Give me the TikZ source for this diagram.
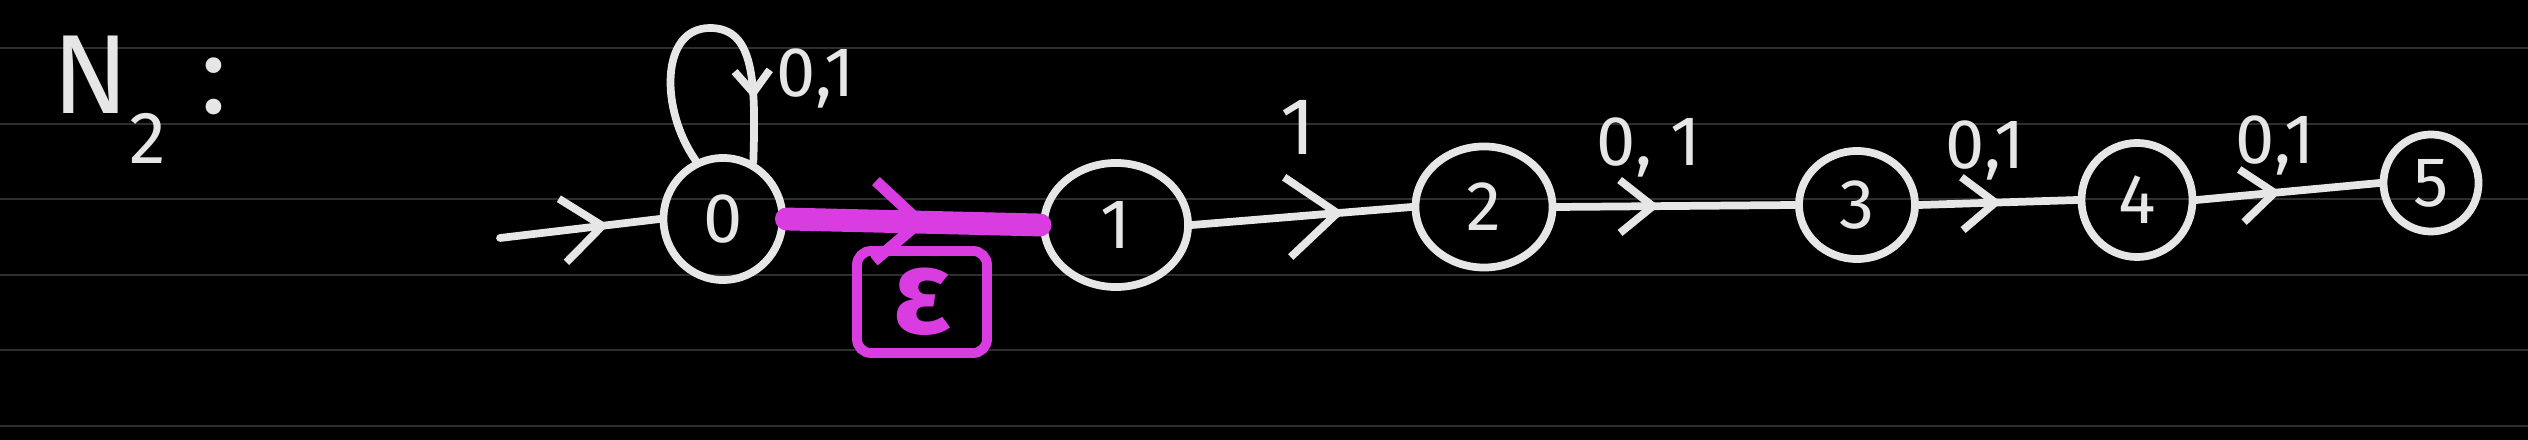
\documentclass[tikz,border=0pt]{standalone}
\usepackage{fontspec}
\setmainfont{Fira Sans}
\usetikzlibrary{shapes.geometric,decorations.markings,arrows.meta}

\definecolor{chalk}{HTML}{E6E6E6}
\definecolor{pen}{HTML}{D93CE0}
\definecolor{ruling}{HTML}{2E2E2E}

\tikzset{
  state/.style={draw=chalk,line width=2.2pt,ellipse,inner sep=0pt,text=chalk,font=\fontsize{20}{24}\selectfont},
  edge/.style={draw=chalk,line width=2.2pt,line cap=round},
  midtip/.style 2 args={postaction={decorate},decoration={markings,mark=at position #1 with {\arrow[line width=2.2pt]{Straight Barb[length=#2cm,width=1.6*#2cm]}}}},
  lbl/.style={text=chalk,font=\fontsize{20}{24}\selectfont},
}

\begin{document}
\begin{tikzpicture}[x=0.01cm,y=-0.01cm]

% -- background and ruled lines
\fill[black] (0,0) rectangle (2528,440);
\useasboundingbox (0,0) rectangle (2528,440);
\foreach \yy in {48,124,199,275,350,426}
  \draw[ruling,line width=0.6pt] (0,\yy) -- (2528,\yy);

% -- title
\node[text=chalk,font=\fontsize{32}{38}\selectfont,anchor=west] (title) at (40,100) {N\raisebox{-0.5cm}{\fontsize{21}{24}\selectfont 2}\hspace{0.35cm}:};

% -- states
\node[state,minimum width=1.19cm,minimum height=1.22cm] (s0) at (723,219) {0};
\node[state,minimum width=1.44cm,minimum height=1.24cm] (s1) at (1116,225) {1};
\node[state,minimum width=1.37cm,minimum height=1.21cm] (s2) at (1484,207) {2};
\node[state,minimum width=1.16cm,minimum height=1.08cm] (s3) at (1857,205) {3};
\node[state,minimum width=1.11cm,minimum height=1.14cm] (s4) at (2137,200) {4};
\node[state,minimum width=0.95cm,minimum height=0.97cm] (s5) at (2431,183) {5};

% -- start arrow
\coordinate (start) at (500,238);
\draw[edge,midtip={0.68}{0.4}] (start) -- (s0.west);

% -- self loop on 0
\draw[edge,midtip={0.8}{0.22}] (s0.115) .. controls (660,110) and (660,28) .. (710,28)
  .. controls (754,28) and (756,80) .. (s0.62);
\node[lbl] (l00) at (816,78) {0,1};

% -- epsilon move
\draw[pen,line width=6.5pt,line cap=round,postaction={decorate},
  decoration={markings,mark=at position 0.56 with {\arrow[pen,line width=3.2pt]{Straight Barb[length=0.45cm,width=0.8cm]}}}]
  (s0.east) -- (s1.west);
\node[draw=pen,line width=2.8pt,rounded corners=4pt,minimum width=1.3cm,minimum height=1.02cm,
  text=pen,font=\fontsize{34}{40}\selectfont\bfseries] (eps) at (922,302) {ε};

% -- chain 1 to 5
\draw[edge,midtip={0.69}{0.5}] (s1.east) -- (s2.west);
\node[lbl,font=\fontsize{23}{26}\selectfont] (l12) at (1298,127) {1};

\draw[edge,midtip={0.43}{0.33}] (s2.east) -- (s3.west);
\node[lbl] (l23) at (1649,147) {0, 1};

\draw[edge,midtip={0.52}{0.33}] (s3.east) -- (s4.west);
\node[lbl] (l34) at (1985,150) {0,1};

\draw[edge,midtip={0.46}{0.33}] (s4.east) -- (s5.west);
\node[lbl] (l45) at (2275,145) {0,1};

\end{tikzpicture}
\end{document}
